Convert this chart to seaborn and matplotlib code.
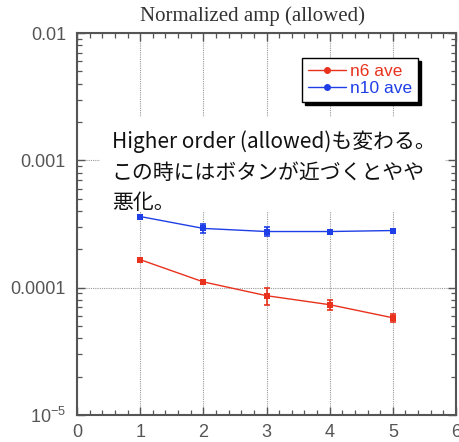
import matplotlib
matplotlib.use("Agg")
import matplotlib.pyplot as plt
from matplotlib.lines import Line2D
from matplotlib.patches import Rectangle
from matplotlib.ticker import FixedLocator, FixedFormatter, MultipleLocator, LogLocator, NullFormatter
import numpy as np
import pandas as pd
import seaborn as sns

# Normalized amplitude of allowed higher-order harmonics per step
steps = [1, 2, 3, 4, 5]
n6_ave = [1.66e-4, 1.11e-4, 8.65e-5, 7.35e-5, 5.8e-5]
n6_err = [3e-6, 3e-6, 1.3e-5, 7e-6, 4.5e-6]
n10_ave = [3.62e-4, 2.92e-4, 2.76e-4, 2.76e-4, 2.81e-4]
n10_err = [6e-6, 2.2e-5, 2.2e-5, 5e-6, 5e-6]

series_names = ["n6 ave", "n10 ave"]
series_colors = ["#e8321e", "#1f3fe6"]

y_ticks = [1e-5, 1e-4, 1e-3, 1e-2]
y_tick_labels = ["$10^{-5}$", "0.0001", "0.001", "0.01"]

df = pd.concat([
    pd.DataFrame({"step": steps, "amp": n6_ave, "err": n6_err, "series": series_names[0]}),
    pd.DataFrame({"step": steps, "amp": n10_ave, "err": n10_err, "series": series_names[1]}),
])

sns.set_style("ticks")
plt.rcParams["font.family"] = ["Liberation Sans", "DejaVu Sans"]
plt.rcParams["mathtext.fontset"] = "custom"
plt.rcParams["mathtext.rm"] = "Liberation Sans"
plt.rcParams["mathtext.it"] = "Liberation Sans"

fig = plt.figure(figsize=(4.59, 4.42), dpi=100)
ax = fig.add_axes([77 / 459, 1 - 415 / 442, 379 / 459, 382 / 442])

palette = dict(zip(series_names, series_colors))
sns.lineplot(data=df, x="step", y="amp", hue="series", palette=palette,
             marker="s", markersize=5, markeredgewidth=0, linewidth=1.0,
             legend=False, ax=ax, zorder=4)
for name, color in palette.items():
    sub = df[df["series"] == name]
    ax.errorbar(sub["step"], sub["amp"], yerr=sub["err"], fmt="none",
                ecolor=color, elinewidth=1.2, capsize=2.5, capthick=1.2, zorder=4)

ax.set_yscale("log")
ax.set_xlim(0, 6)
ax.set_ylim(1e-5, 1e-2)
ax.xaxis.set_major_locator(MultipleLocator(1))
ax.xaxis.set_minor_locator(MultipleLocator(0.2))
ax.yaxis.set_major_locator(FixedLocator(y_ticks))
ax.yaxis.set_major_formatter(FixedFormatter(y_tick_labels))
ax.yaxis.set_minor_locator(LogLocator(base=10, subs=np.arange(2, 10)))
ax.yaxis.set_minor_formatter(NullFormatter())
ax.set_xlabel("")
ax.set_ylabel("")

ax.grid(True, which="major", color="#999999", linestyle=(0, (1, 1)), linewidth=0.8)
ax.set_axisbelow(True)
ax.tick_params(which="both", direction="in", top=True, right=True,
               colors="#555555", labelcolor="#555555", labelsize=13)
ax.tick_params(which="major", length=6, width=1.0)
ax.tick_params(axis="x", which="major", pad=6.5)
ax.tick_params(axis="y", which="major", pad=8)
ax.tick_params(which="minor", length=3.5, width=0.9)
for sp in ax.spines.values():
    sp.set_color("#555555")
    sp.set_linewidth(1.5)

# white backing for the note
ax.add_patch(Rectangle((0.061, 0.531), 0.91, 0.249, transform=ax.transAxes,
                       facecolor="white", edgecolor="none", zorder=2))
ax.text(0.092, 0.745,
        "Higher order (allowed)も変わる。\nこの時にはボタンが近づくとやや\n悪化。",
        transform=ax.transAxes, ha="left", va="top", fontsize=15,
        family=["Noto Sans CJK JP", "DejaVu Sans"], color="#111111",
        linespacing=1.5, zorder=3)

handles = [Line2D([], [], color=c, marker="o", markersize=4, linewidth=1.0)
           for c in series_colors]
leg = ax.legend(handles, series_names, loc="upper left", bbox_to_anchor=(0.594, 0.935),
                borderaxespad=0, frameon=True, fancybox=False,
                shadow={"color": "black", "alpha": 1.0},
                edgecolor="black", fontsize=12.5, handlelength=2.2, handletextpad=0.2,
                labelspacing=0.1, borderpad=0.35, labelcolor="linecolor")
leg.get_frame().set_linewidth(1.0)
leg.set_zorder(6)

fig.text(252 / 459, 1 - 16 / 442, "Normalized amp (allowed)",
         ha="center", va="center", fontsize=15, family=["Liberation Serif"], color="#333333")

fig.savefig("out.png", dpi=100)
